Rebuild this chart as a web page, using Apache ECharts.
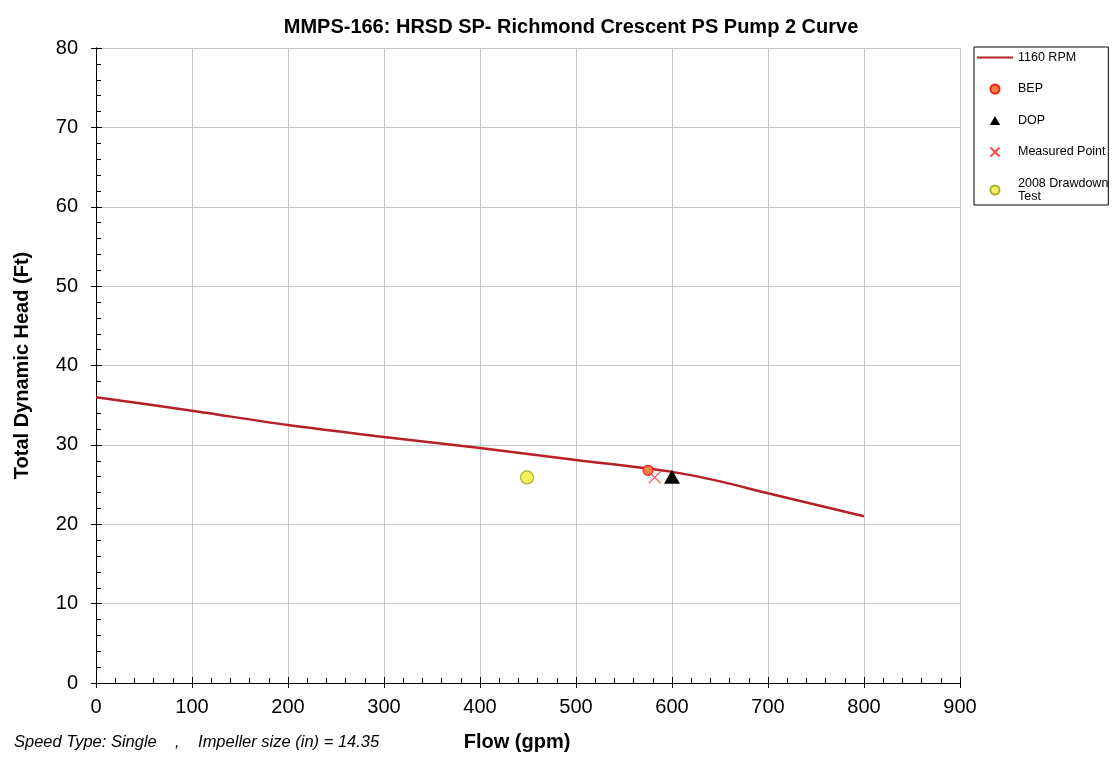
<!DOCTYPE html>
<html>
<head>
<meta charset="utf-8">
<script src="https://cdn.jsdelivr.net/npm/echarts@6/dist/echarts.min.js"></script>
<style>
  html, body { margin: 0; padding: 0; background: #fff; }
  #chart { width: 1113px; height: 757px; }
</style>
</head>
<body>
<div id="chart"></div>
<script>
// pump curve, 1160 RPM
const curveFlow = [0, 100, 200, 300, 400, 500, 600, 650, 700, 800];
const curveHead = [36.0, 34.3, 32.5, 31.0, 29.6, 28.1, 26.6, 25.4, 23.9, 21.0];

const bepPoint = [575, 26.8];
const dopPoint = [600, 26.0];
const measuredPoint = [582, 25.9];
const drawdownPoint = [449, 25.9];

const xMax = 900;
const yMax = 80;

const font = 'Arial, "Liberation Sans", sans-serif';
const chart = echarts.init(document.getElementById('chart'));

const xBase = {
  type: 'value', min: 0, max: xMax, interval: 100,
  axisLine: { show: true, onZero: false, lineStyle: { color: '#000', width: 1 } },
};
const yBase = {
  type: 'value', min: 0, max: yMax, interval: 10,
  axisLine: { show: true, onZero: false, lineStyle: { color: '#000', width: 1 } },
};

chart.setOption({
  animation: false,
  textStyle: { fontFamily: font },
  title: {
    text: 'MMPS-166: HRSD SP- Richmond Crescent PS Pump 2 Curve',
    left: 566, top: 12, textAlign: 'center',
    textStyle: { fontSize: 20, fontWeight: 'bold', color: '#000', fontFamily: font },
  },
  grid: { left: 96, right: 153, top: 48, bottom: 72 },
  xAxis: [
    Object.assign({}, xBase, {
      name: 'Flow (gpm)', nameLocation: 'middle', nameGap: 49,
      nameTextStyle: { fontSize: 20, fontWeight: 'bold', color: '#000', padding: [0, 22, 0, 0] },
      axisLabel: { fontSize: 20, color: '#000', margin: 14 },
      axisTick: { show: true, length: 5, lineStyle: { color: '#000' } },
      splitLine: { show: true, lineStyle: { color: '#c8c8c8', width: 1 } },
    }),
    Object.assign({}, xBase, {
      position: 'bottom',
      axisLabel: { show: false },
      axisTick: { show: true, inside: true, length: 6, lineStyle: { color: '#000' } },
      minorTick: { show: true, splitNumber: 5, length: 5, lineStyle: { color: '#000' } },
      splitLine: { show: false },
    }),
  ],
  yAxis: [
    Object.assign({}, yBase, {
      name: 'Total Dynamic Head (Ft)', nameLocation: 'middle', nameGap: 64,
      nameTextStyle: { fontSize: 20, fontWeight: 'bold', color: '#000' },
      axisLabel: { fontSize: 20, color: '#000', margin: 18 },
      axisTick: { show: true, length: 5, lineStyle: { color: '#000' } },
      splitLine: { show: true, lineStyle: { color: '#c8c8c8', width: 1 } },
    }),
    Object.assign({}, yBase, {
      position: 'left',
      axisLabel: { show: false },
      axisTick: { show: true, inside: true, length: 6, lineStyle: { color: '#000' } },
      minorTick: { show: true, splitNumber: 5, length: 5, lineStyle: { color: '#000' } },
      splitLine: { show: false },
    }),
  ],
  legend: {
    orient: 'vertical',
    left: 974, top: 47,
    itemWidth: 36, itemHeight: 9, itemGap: 18.5,
    padding: [4, 0, 2, 2],
    borderColor: '#000', borderWidth: 1,
    textStyle: { fontSize: 12.5, color: '#000', fontFamily: font, lineHeight: 13 },
    data: [
      { name: '1160 RPM', itemStyle: { color: 'rgba(0,0,0,0)', borderWidth: 0 } },
      'BEP',
      { name: 'DOP', icon: 'path://M4,0L8,7L0,7Z' },
      'Measured Point', '2008 Drawdown\nTest',
    ],
  },
  graphic: [
    {
      type: 'text', left: 14, top: 734,
      style: {
        text: 'Speed Type: Single    ,    Impeller size (in) = 14.35',
        font: 'italic 16.5px ' + font, fill: '#000',
      },
    },
  ],
  series: [
    {
      name: '1160 RPM', type: 'line',
      data: curveFlow.map((f, i) => [f, curveHead[i]]),
      symbol: 'none', smooth: 0.3,
      lineStyle: { color: '#b52025', width: 2.5 },
      itemStyle: { color: '#b52025' },
      z: 3,
    },
    {
      name: '2008 Drawdown\nTest', type: 'scatter',
      data: [drawdownPoint], symbol: 'circle', symbolSize: 13, symbolKeepAspect: true,
      itemStyle: { color: '#f4f060', borderColor: '#a8b030', borderWidth: 1.2, opacity: 1 },
      z: 4,
    },
    {
      name: 'Measured Point', type: 'scatter',
      data: [measuredPoint], symbol: 'path://M0,0L10,10M10,0L0,10', symbolSize: 12,
      symbolKeepAspect: true,
      itemStyle: { color: 'rgba(0,0,0,0)', borderColor: '#ff4a4a', borderWidth: 1.2, opacity: 1 },
      z: 4,
    },
    {
      name: 'BEP', type: 'scatter',
      data: [bepPoint], symbol: 'circle', symbolSize: 10, symbolKeepAspect: true,
      itemStyle: { color: '#ff8040', borderColor: '#ee2020', borderWidth: 1.2, opacity: 1 },
      z: 5,
    },
    {
      name: 'DOP', type: 'scatter',
      data: [dopPoint], symbol: 'path://M8,0L16,14L0,14Z', symbolSize: 16, symbolKeepAspect: true,
      itemStyle: { color: '#000', opacity: 1 },
      z: 5,
    },
  ],
});
</script>
</body>
</html>
